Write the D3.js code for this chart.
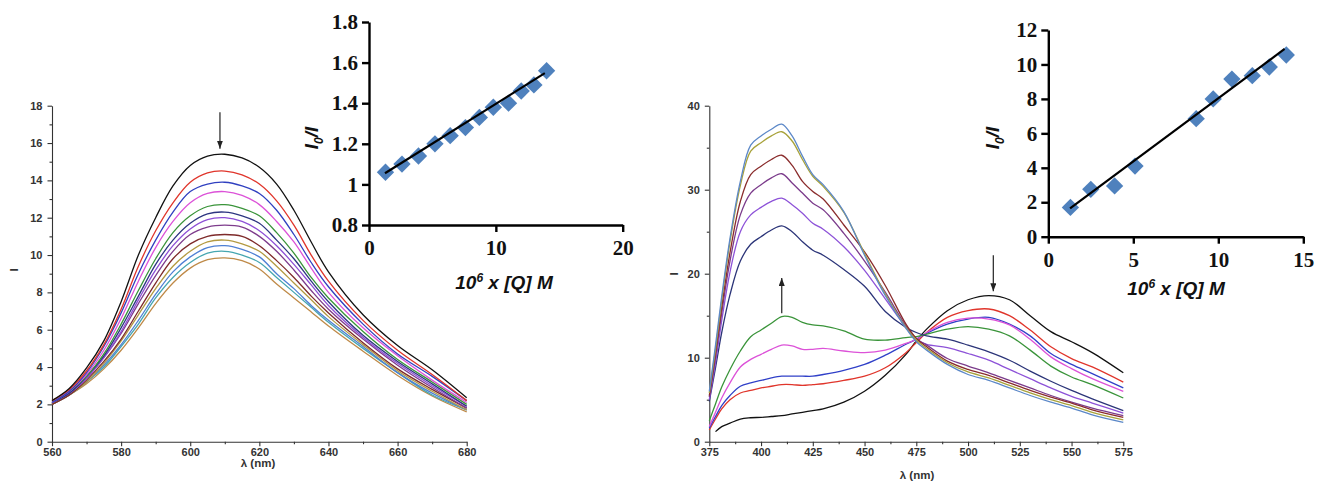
<!DOCTYPE html>
<html>
<head>
<meta charset="utf-8">
<script src="https://cdn.jsdelivr.net/npm/d3@7/dist/d3.min.js"></script>
<style>
  body { margin: 0; background: #fff; }
  svg { display: block; }
  .main-axis path, .main-axis line { stroke: #333; stroke-width: 1.1; }
  .main-axis text { font-family: Arial, "Liberation Sans", sans-serif; font-size: 11px; font-weight: bold; fill: #333; }
  .inset-axis path, .inset-axis line { stroke: #000; stroke-width: 2.4; }
  .inset-axis text { font-family: "Times New Roman", "Liberation Serif", serif; font-size: 21px; font-weight: bold; fill: #111; }
  .main-title { font-family: Arial, "Liberation Sans", sans-serif; font-size: 11.5px; font-weight: bold; fill: #333; }
  .inset-title { font-family: Arial, "Liberation Sans", sans-serif; font-size: 19px; font-weight: bold; font-style: italic; fill: #111; }
</style>
</head>
<body>
<div id="svg-container"></div>
<script>
////////////////////////////////////////////////////////////////////
////////////////////////////  Data  ////////////////////////////////
// left panel: spectra 560-680 nm (top curve first)
const lambdaLeft = [560, 565, 570, 575, 580, 585, 590, 595, 600, 605, 610, 615, 620, 625, 630, 635, 640, 650, 660, 670, 680];
const spectraLeft = [
  [2.2, 2.85, 3.95, 5.4, 7.5, 10.0, 12.0, 13.7, 14.8, 15.3, 15.4, 15.2, 14.7, 13.8, 12.4, 10.7, 9.1, 6.8, 5.15, 3.85, 2.35],
  [2.2, 2.8, 3.8, 5.2, 7.1, 9.4, 11.3, 12.8, 13.9, 14.4, 14.5, 14.3, 13.8, 12.9, 11.6, 10.0, 8.6, 6.5, 4.9, 3.6, 2.2],
  [2.1, 2.7, 3.7, 5.1, 6.9, 9.0, 10.8, 12.3, 13.4, 13.8, 13.9, 13.7, 13.3, 12.4, 11.1, 9.6, 8.3, 6.3, 4.7, 3.5, 2.2],
  [2.1, 2.7, 3.6, 4.9, 6.6, 8.6, 10.4, 11.8, 12.8, 13.3, 13.4, 13.2, 12.7, 11.8, 10.7, 9.3, 8.0, 6.1, 4.6, 3.3, 2.1],
  [2.1, 2.7, 3.5, 4.7, 6.3, 8.1, 9.8, 11.2, 12.1, 12.6, 12.7, 12.5, 12.1, 11.2, 10.1, 8.8, 7.7, 5.9, 4.4, 3.2, 2.0],
  [2.1, 2.6, 3.5, 4.6, 6.1, 7.8, 9.5, 10.8, 11.7, 12.2, 12.3, 12.1, 11.7, 10.8, 9.8, 8.6, 7.5, 5.7, 4.3, 3.1, 1.9],
  [2.1, 2.6, 3.4, 4.5, 5.9, 7.6, 9.2, 10.5, 11.4, 11.9, 12.0, 11.8, 11.3, 10.5, 9.5, 8.4, 7.3, 5.6, 4.2, 3.0, 1.9],
  [2.1, 2.6, 3.4, 4.5, 5.8, 7.4, 8.9, 10.2, 11.1, 11.5, 11.6, 11.5, 11.0, 10.2, 9.2, 8.1, 7.1, 5.5, 4.1, 2.9, 1.8],
  [2.0, 2.5, 3.3, 4.3, 5.5, 7.0, 8.5, 9.8, 10.6, 11.0, 11.1, 11.0, 10.5, 9.7, 8.8, 7.8, 6.9, 5.3, 3.9, 2.8, 1.8],
  [2.0, 2.5, 3.2, 4.2, 5.4, 6.8, 8.2, 9.4, 10.2, 10.7, 10.8, 10.6, 10.2, 9.4, 8.5, 7.6, 6.7, 5.2, 3.8, 2.7, 1.7],
  [2.0, 2.5, 3.2, 4.1, 5.2, 6.5, 7.9, 9.1, 9.9, 10.4, 10.5, 10.3, 9.9, 9.0, 8.2, 7.3, 6.5, 5.1, 3.7, 2.6, 1.7],
  [2.0, 2.5, 3.2, 4.0, 5.1, 6.3, 7.7, 8.8, 9.6, 10.1, 10.2, 10.0, 9.6, 8.8, 8.0, 7.2, 6.4, 5.0, 3.7, 2.5, 1.7],
  [2.0, 2.5, 3.1, 3.9, 4.9, 6.1, 7.4, 8.5, 9.3, 9.75, 9.85, 9.7, 9.25, 8.45, 7.7, 6.95, 6.2, 4.85, 3.55, 2.45, 1.6]
];
const colorsLeft = ["#111111", "#e0352b", "#3040c0", "#dc52d8", "#3a943a", "#2c3580", "#8d4fd6",
  "#7e3c8c", "#7e2a2a", "#b39a42", "#4f80d4", "#46a6b0", "#bf8a48"];

// right panel: spectra 375-575 nm (top curve at 410 nm first)
const lambdaRight = [375, 378, 381, 385, 390, 395, 400, 405, 410, 415, 420, 425, 430, 440, 450, 460, 470, 475, 480, 490, 500, 510, 520, 530, 540, 550, 560, 575];
const spectraRight = [
  [6.0, 11.5, 17.3, 24.2, 31.0, 35.3, 36.4, 37.2, 37.8, 36.4, 34.0, 31.8, 30.6, 27.4, 22.2, 17.4, 13.5, 11.9, 10.9, 9.2, 8.0, 7.3, 6.4, 5.5, 4.7, 4.0, 3.2, 2.3],
  [5.8, 11.0, 16.8, 23.8, 30.5, 34.6, 35.6, 36.4, 36.9, 35.8, 33.6, 31.6, 30.4, 27.3, 22.4, 17.6, 13.6, 12.1, 11.1, 9.4, 8.3, 7.6, 6.7, 5.8, 5.0, 4.3, 3.5, 2.6],
  [5.5, 10.5, 16.0, 22.5, 28.6, 31.8, 32.8, 33.6, 34.1, 32.9, 31.0, 29.8, 28.9, 25.8, 22.6, 18.6, 14.0, 12.3, 11.3, 9.6, 8.6, 7.9, 7.0, 6.1, 5.3, 4.6, 3.8, 2.9],
  [5.3, 10.0, 15.3, 21.5, 27.0, 29.6, 30.6, 31.4, 31.9, 30.8, 29.6, 28.4, 27.6, 24.8, 21.5, 17.8, 13.8, 12.3, 11.5, 9.9, 9.0, 8.2, 7.3, 6.4, 5.5, 4.7, 4.0, 3.1],
  [5.0, 9.4, 14.4, 20.2, 25.0, 27.0, 27.9, 28.6, 29.0, 28.2, 27.2, 26.0, 25.3, 23.2, 20.4, 17.0, 13.6, 12.1, 11.6, 11.2, 10.5, 9.7, 8.6, 7.5, 6.4, 5.4, 4.6, 3.4],
  [4.8, 8.8, 13.0, 17.5, 21.5, 23.5, 24.4, 25.2, 25.7, 25.0, 23.8, 22.8, 22.2, 20.5, 18.5, 15.5, 13.6, 13.0, 12.6, 12.2, 11.5, 10.7, 9.7, 8.4, 7.2, 6.1, 5.1, 3.7],
  [2.5, 4.5, 6.5, 8.6, 10.8, 12.5, 13.3, 14.1, 14.9, 14.8, 14.2, 13.9, 13.8, 13.2, 12.2, 12.1, 12.4, 12.5, 12.8, 13.4, 13.7, 13.4, 12.6, 10.9, 9.0, 7.7, 6.8, 5.2],
  [1.8, 3.5, 5.2, 7.0, 8.9, 9.8, 10.4, 11.0, 11.5, 11.4, 11.0, 11.0, 11.1, 10.8, 10.6, 10.9, 11.7, 12.2, 13.0, 14.2, 14.7, 14.6, 13.9, 12.2, 10.1, 8.7, 7.5, 6.0],
  [1.6, 3.0, 4.3, 5.5, 6.6, 7.0, 7.3, 7.6, 7.8, 7.8, 7.8, 7.8, 8.0, 8.5, 9.2, 10.3, 11.6, 12.2, 12.9, 14.0, 14.6, 14.8, 14.0, 12.6, 10.5, 9.2, 8.1, 6.4],
  [1.4, 2.7, 3.9, 5.0, 5.8, 6.1, 6.4, 6.6, 6.8, 6.8, 6.7, 6.8, 6.9, 7.3, 7.8, 8.8, 10.6, 11.8, 13.0, 14.8, 15.6, 15.8, 15.0, 13.3, 11.3, 9.9, 8.9, 7.1],
  [null, 1.2, 1.8, 2.2, 2.7, 2.85, 2.9, 3.0, 3.1, 3.3, 3.5, 3.7, 3.9, 4.7, 6.0, 7.9, 10.4, 12.0, 13.4, 15.6, 16.9, 17.4, 16.9, 15.0, 13.1, 11.9, 10.6, 8.2]
];
const colorsRight = ["#5c88c8", "#a8a23a", "#8a2c2c", "#7b3b8b", "#8d52d8", "#2b3478",
  "#3a943a", "#dc52d8", "#3040c8", "#e0352b", "#111111"];

// insets: Stern-Volmer plots
const svLeftX = [1.3, 2.6, 3.9, 5.2, 6.4, 7.6, 8.7, 9.8, 11.0, 12.0, 13.0, 14.0];
const svLeftY = [1.06, 1.10, 1.14, 1.20, 1.24, 1.28, 1.33, 1.38, 1.40, 1.46, 1.49, 1.56];
const svLeftFit = [[1.26, 1.055], [13.86, 1.548]];

const svRightX = [1.3, 2.5, 3.9, 5.1, 8.7, 9.7, 10.8, 12.0, 13.0, 14.0];
const svRightY = [1.7, 2.75, 2.95, 4.1, 6.85, 8.0, 9.15, 9.35, 9.85, 10.55];
const svRightFit = [[1.28, 1.65], [13.9, 10.9]];

////////////////////////////////////////////////////////////////////
////////////////////////////  Init  ////////////////////////////////
const width = 1320;
const height = 483;

const svg = d3.select("#svg-container").append("svg")
  .attr("width", width).attr("height", height);

const defs = svg.append("defs");
defs.append("marker")
  .attr("id", "arrow")
  .attr("viewBox", "0 0 10 10")
  .attr("refX", 10).attr("refY", 5)
  .attr("markerUnits", "userSpaceOnUse")
  .attr("markerWidth", 8).attr("markerHeight", 6)
  .attr("preserveAspectRatio", "none")
  .attr("orient", "auto")
  .append("path").attr("d", "M0,0 L10,5 L0,10 z").attr("fill", "#222");

// scales
const xLeft = d3.scaleLinear().domain([560, 680]).range([52, 466.7]);
const yLeft = d3.scaleLinear().domain([0, 18]).range([441.7, 105.7]);
const xRight = d3.scaleLinear().domain([375, 575]).range([709.3, 1123.3]);
const yRight = d3.scaleLinear().domain([0, 40]).range([441.7, 105.7]);

const xInsetL = d3.scaleLinear().domain([0, 20]).range([369, 622.7]);
const yInsetL = d3.scaleLinear().domain([0.8, 1.8]).range([225, 22]);
const xInsetR = d3.scaleLinear().domain([0, 15]).range([1048.3, 1303.3]);
const yInsetR = d3.scaleLinear().domain([0, 12]).range([236.7, 30]);

////////////////////////////////////////////////////////////////////
////////////////////////////  Main panels  /////////////////////////
function mainPanel(x, y, xMajor, xMinor, yMajor, yMinor) {
  const x0 = x.range()[0];
  const y0 = y.range()[0];

  // minor ticks
  svg.append("g").attr("class", "main-axis")
    .attr("transform", `translate(0,${y0})`)
    .call(d3.axisBottom(x).tickValues(xMinor).tickSize(2.5).tickSizeOuter(0).tickFormat(""))
    .call((g) => g.select(".domain").remove());
  svg.append("g").attr("class", "main-axis")
    .attr("transform", `translate(${x0},0)`)
    .call(d3.axisLeft(y).tickValues(yMinor).tickSize(2.5).tickSizeOuter(0).tickFormat(""))
    .call((g) => g.select(".domain").remove());

  // major ticks
  svg.append("g").attr("class", "main-axis")
    .attr("transform", `translate(0,${y0})`)
    .call(d3.axisBottom(x).tickValues(xMajor).tickSize(4.5).tickSizeOuter(0).tickPadding(2).tickFormat(d3.format("d")));
  svg.append("g").attr("class", "main-axis")
    .attr("transform", `translate(${x0},0)`)
    .call(d3.axisLeft(y).tickValues(yMajor).tickSize(4.5).tickSizeOuter(0).tickPadding(5).tickFormat(d3.format("d")));
}

function drawSpectra(x, y, lambdas, spectra, colors) {
  const line = d3.line()
    .defined((d) => d[1] != null)
    .x((d) => x(d[0]))
    .y((d) => y(d[1]))
    .curve(d3.curveCatmullRom.alpha(0.5));

  const g = svg.append("g");
  // draw bottom curves first so the first series ends on top
  spectra.map((s, i) => ({ s, i })).reverse().forEach(({ s, i }) => {
    g.append("path")
      .datum(lambdas.map((l, k) => [l, s[k]]))
      .attr("d", line)
      .attr("fill", "none")
      .attr("stroke", colors[i])
      .attr("stroke-width", 1.3);
  });
}

function arrow(x, y, lambda, from, to) {
  svg.append("line")
    .attr("x1", x(lambda)).attr("y1", y(from))
    .attr("x2", x(lambda)).attr("y2", y(to))
    .attr("stroke", "#222").attr("stroke-width", 1.2)
    .attr("marker-end", "url(#arrow)");
}

// left
mainPanel(xLeft, yLeft,
  d3.range(560, 681, 20), d3.range(570, 680, 20),
  d3.range(0, 19, 2), d3.range(1, 18, 2));
drawSpectra(xLeft, yLeft, lambdaLeft, spectraLeft, colorsLeft);
arrow(xLeft, yLeft, 608.6, 17.65, 15.7);

svg.append("text").attr("class", "main-title")
  .attr("x", 258).attr("y", 467).attr("text-anchor", "middle").text("λ (nm)");
svg.append("text").attr("class", "main-title")
  .attr("transform", "translate(18,270) rotate(-90)")
  .attr("text-anchor", "middle").text("I");

// right
mainPanel(xRight, yRight,
  d3.range(375, 576, 25), d3.range(387.5, 575, 25),
  d3.range(0, 41, 10), d3.range(5, 40, 10));
drawSpectra(xRight, yRight, lambdaRight, spectraRight, colorsRight);
arrow(xRight, yRight, 410, 15.3, 19.5);
arrow(xRight, yRight, 512.2, 22.2, 17.9);

svg.append("text").attr("class", "main-title")
  .attr("x", 917).attr("y", 479).attr("text-anchor", "middle").text("λ (nm)");
svg.append("text").attr("class", "main-title")
  .attr("transform", "translate(678,274) rotate(-90)")
  .attr("text-anchor", "middle").text("I");

////////////////////////////////////////////////////////////////////
////////////////////////////  Insets  //////////////////////////////
function inset(x, y, xTicks, yTicks, yFormat, xs, ys, fit, titleX, titleY, ylabX, ylabY) {
  svg.append("g").attr("class", "inset-axis")
    .attr("transform", `translate(0,${y.range()[0]})`)
    .call(d3.axisBottom(x).tickValues(xTicks).tickSize(7).tickSizeOuter(0).tickPadding(8).tickFormat(d3.format("d")));
  svg.append("g").attr("class", "inset-axis")
    .attr("transform", `translate(${x.range()[0]},0)`)
    .call(d3.axisLeft(y).tickValues(yTicks).tickSize(7).tickSizeOuter(0).tickPadding(4).tickFormat(yFormat));

  svg.append("g").selectAll("path")
    .data(xs.map((v, i) => [v, ys[i]]))
    .join("path")
    .attr("d", d3.symbol().type(d3.symbolSquare).size(150))
    .attr("transform", (d) => `translate(${x(d[0])},${y(d[1])}) rotate(45)`)
    .attr("fill", "#4f81bd");

  svg.append("line")
    .attr("x1", x(fit[0][0])).attr("y1", y(fit[0][1]))
    .attr("x2", x(fit[1][0])).attr("y2", y(fit[1][1]))
    .attr("stroke", "#000").attr("stroke-width", 2.2);

  const t = svg.append("text").attr("class", "inset-title")
    .attr("x", titleX).attr("y", titleY).attr("text-anchor", "middle");
  t.append("tspan").text("10");
  t.append("tspan").attr("dy", -7).attr("font-size", 12).text("6");
  t.append("tspan").attr("dy", 7).text(" x [Q] M");

  const l = svg.append("text").attr("class", "inset-title")
    .attr("transform", `translate(${ylabX},${ylabY}) rotate(-90)`)
    .attr("text-anchor", "middle");
  l.append("tspan").text("I");
  l.append("tspan").attr("dy", 5).attr("font-size", 12).text("0");
  l.append("tspan").attr("dy", -5).text("/I");
}

inset(xInsetL, yInsetL, [0, 10, 20], d3.range(0.8, 1.81, 0.2),
  (d) => (Math.abs(d - 1) < 1e-9 ? "1" : d.toFixed(1)),
  svLeftX, svLeftY, svLeftFit, 504, 289, 318, 138);

inset(xInsetR, yInsetR, [0, 5, 10, 15], d3.range(0, 13, 2), d3.format("d"),
  svRightX, svRightY, svRightFit, 1176, 295, 999, 138);
</script>
</body>
</html>
